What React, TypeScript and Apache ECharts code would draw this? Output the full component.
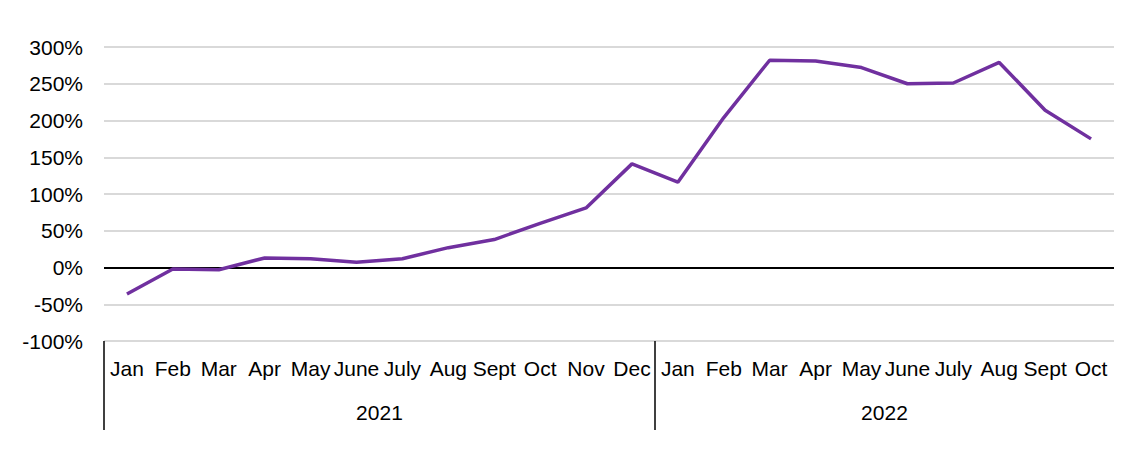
import React, { useEffect, useRef } from 'react';
import * as echarts from 'echarts';

const months = ['Jan', 'Feb', 'Mar', 'Apr', 'May', 'June', 'July', 'Aug', 'Sept', 'Oct', 'Nov', 'Dec',
  'Jan', 'Feb', 'Mar', 'Apr', 'May', 'June', 'July', 'Aug', 'Sept', 'Oct'];
const years = ['2021', '2022'];
const yearStart = [0, 12];
const yearLength = [12, 10];
const growth = [-36, -2, -3, 13, 12, 7, 12, 27, 38, 60, 81, 141,
  116, 204, 282, 281, 272, 250, 251, 279, 214, 175];
const yMin = -100;
const yMax = 300;
const yStep = 50;

const FONT = "'Liberation Sans Narrow', 'Arial Narrow', 'Liberation Sans', Arial, sans-serif";

export default function App() {
  const ref = useRef<HTMLDivElement>(null);
  useEffect(() => {
    document.body.style.margin = '0';
    const chart = echarts.init(ref.current!, null, { renderer: 'svg' });
    const nLines = (yMax - yMin) / yStep + 1;
    const splitColors: string[] = [];
    for (let i = 0; i < nLines; i++) {
      splitColors.push(yMin + i * yStep === 0 ? '#000000' : '#d9d9d9');
    }
    const yearCenters = years.map((_, i) => yearStart[i] + yearLength[i] / 2);
    const total = months.length;
    chart.setOption({
      animation: false,
      grid: { left: 104, right: 18, top: 47, bottom: 111, containLabel: false },
      xAxis: [
        {
          type: 'category',
          data: months,
          boundaryGap: true,
          axisLine: { show: false },
          axisTick: { show: false },
          axisLabel: { interval: 0, margin: 17, color: '#000', fontSize: 21, fontFamily: FONT },
        },
        {
          type: 'value',
          min: 0,
          max: total,
          position: 'bottom',
          axisLine: { show: false },
          splitLine: { show: false },
          axisTick: {
            show: true,
            customValues: yearStart,
            length: 89,
            lineStyle: { color: '#000', width: 1.5 },
          },
          axisLabel: {
            customValues: yearCenters,
            margin: 61,
            color: '#000',
            fontSize: 21,
            fontFamily: FONT,
            formatter: (v: number) => {
              const idx = yearCenters.indexOf(v);
              return idx >= 0 ? years[idx] : '';
            },
          },
        },
      ],
      yAxis: {
        type: 'value',
        min: yMin,
        max: yMax,
        interval: yStep,
        axisLine: { show: false },
        axisTick: { show: false },
        axisLabel: { formatter: '{value}%', color: '#000', fontSize: 21, fontFamily: FONT, margin: 21 },
        splitLine: { show: true, lineStyle: { color: splitColors, width: 1.8 } },
      },
      series: [
        {
          type: 'line',
          data: growth,
          xAxisIndex: 0,
          symbol: 'none',
          lineStyle: { color: '#70309f', width: 3.5 },
        },
      ],
    });
    return () => chart.dispose();
  }, []);
  return <div ref={ref} style={{ width: 1132, height: 452 }} />;
}
